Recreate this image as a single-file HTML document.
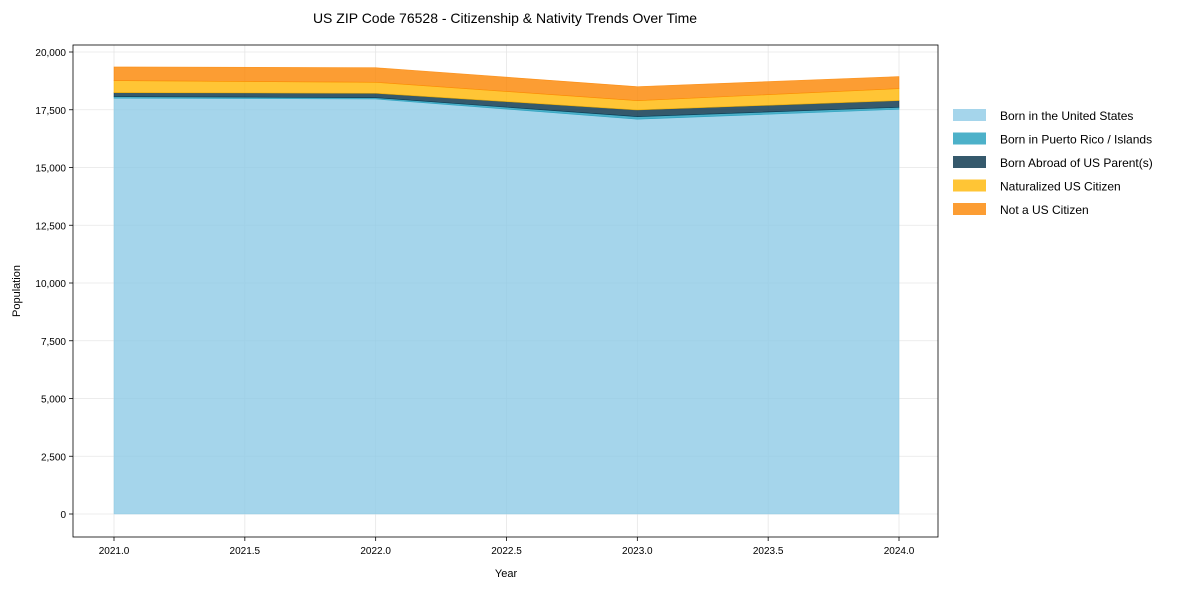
<!DOCTYPE html>
<html><head><meta charset="utf-8"><style>
body{margin:0;background:#fff;font-family:"Liberation Sans",Arial,sans-serif;}
svg text{font-family:"Liberation Sans",Arial,sans-serif;}
</style></head><body>
<svg id="chart" width="1189" height="590" xmlns="http://www.w3.org/2000/svg">
<text x="505" y="23" text-anchor="middle" font-size="14" fill="#000">US ZIP Code 76528 - Citizenship &amp; Nativity Trends Over Time</text>
<g id="grid"></g>
<g id="areas"></g>
<rect x="73" y="45" width="865" height="492" fill="none" stroke="#000" stroke-width="0.8"/>
<g id="axes"></g>
<text x="506" y="577" text-anchor="middle" font-size="11">Year</text>
<text x="20" y="291" text-anchor="middle" font-size="11" transform="rotate(-90 20 291)">Population</text>
<g id="legend"></g>
</svg>
<script>
const years=[2021,2022,2023,2024];
const bornUS=[18000,17965,17090,17520];
const bornPR=[70,57,110,86];
const bornAbroad=[170,190,290,290];
const naturalized=[520,476,403,519];
const notCitizen=[593,632,608,520];
const seriesNames=["Born in the United States","Born in Puerto Rico / Islands","Born Abroad of US Parent(s)","Naturalized US Citizen","Not a US Citizen"];
const yTicks=[0,2500,5000,7500,10000,12500,15000,17500,20000];
const xTicks=[2021,2021.5,2022,2022.5,2023,2023.5,2024];
const colors=["#8ecae6","#219ebc","#023047","#ffb703","#fb8500"];
const NS="http://www.w3.org/2000/svg";
const X=v=>114+(v-2021)*(899-114)/3;
const Y=v=>514-v*(514-52)/20000;
function mk(tag,attrs,parent){const e=document.createElementNS(NS,tag);for(const k in attrs)e.setAttribute(k,attrs[k]);parent.appendChild(e);return e;}
const grid=document.getElementById('grid'),axes=document.getElementById('axes'),areas=document.getElementById('areas'),legend=document.getElementById('legend');
yTicks.forEach(t=>{
 const l=mk('line',{x1:73,x2:938,y1:Y(t),y2:Y(t),stroke:'#e6e6e6','stroke-width':0.8},grid);
 
 
 mk('line',{x1:69,x2:73,y1:Y(t),y2:Y(t),stroke:'#000','stroke-width':0.8},axes);
 const tx=mk('text',{x:66,y:Y(t)+4,'text-anchor':'end','font-size':10},axes);
 tx.textContent=t.toLocaleString('en-US');
 
 
});
xTicks.forEach(t=>{
 const l=mk('line',{x1:X(t),x2:X(t),y1:45,y2:537,stroke:'#e6e6e6','stroke-width':0.8},grid);
 
 
 mk('line',{x1:X(t),x2:X(t),y1:537,y2:541,stroke:'#000','stroke-width':0.8},axes);
 const tx=mk('text',{x:X(t),y:554,'text-anchor':'middle','font-size':10},axes);
 tx.textContent=t.toFixed(1);
 
 
});
const series=[bornUS,bornPR,bornAbroad,naturalized,notCitizen];
let base=years.map(()=>0);
series.forEach((s,i)=>{
 const top=base.map((b,j)=>b+s[j]);
 let d='M'+years.map((y,j)=>X(y)+','+Y(top[j])).join(' L');
 for(let j=years.length-1;j>=0;j--)d+=' L'+X(years[j])+','+Y(base[j]);
 d+='Z';
 const p=mk('path',{d:d,fill:colors[i],'fill-opacity':0.8,stroke:colors[i],'stroke-opacity':0.8,'stroke-width':0.6},areas);
 
 
 base=top;
});
seriesNames.forEach((n,i)=>{
 const y=116+i*23.5;
 const r=mk('rect',{x:953,y:y-7,width:33,height:12,fill:colors[i],'fill-opacity':0.8},legend);
 
 
 const t=mk('text',{x:1000,y:y+4,'font-size':12},legend);
 t.textContent=n;
 
 
});
</script>
</body></html>
